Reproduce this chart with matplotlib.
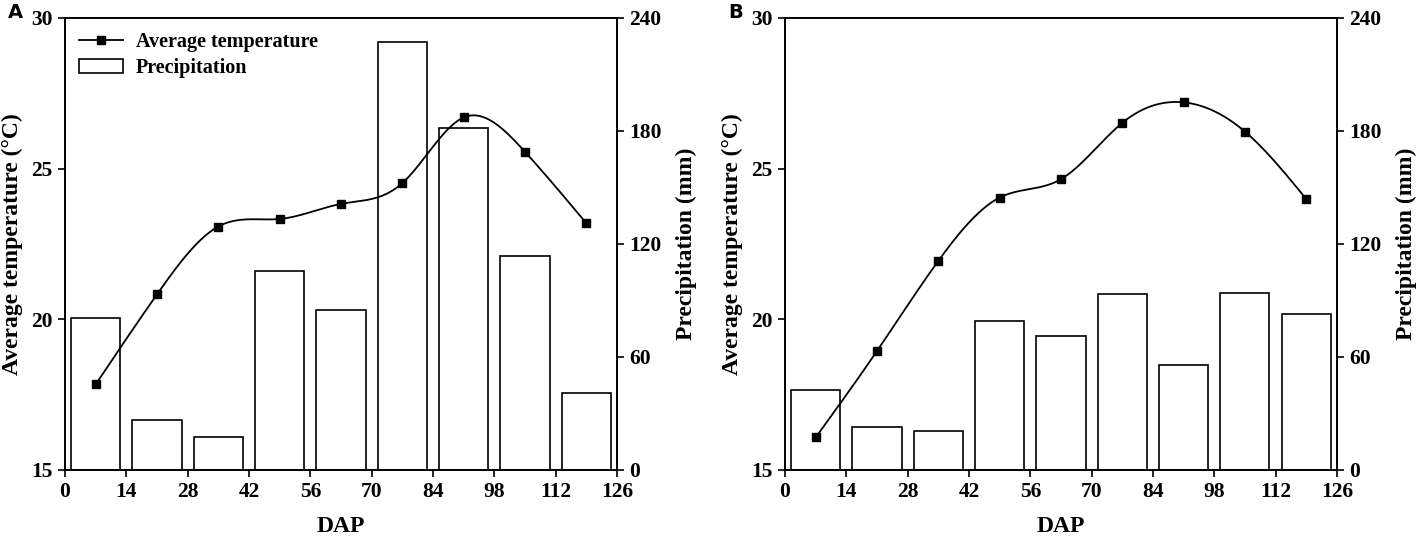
import numpy as np
import matplotlib.pyplot as plt
from matplotlib.lines import Line2D
from matplotlib.patches import Patch

plt.rcParams['font.family'] = ['Liberation Serif', 'DejaVu Serif']
plt.rcParams['font.weight'] = 'bold'
plt.rcParams['axes.labelweight'] = 'bold'

# Данные: дни после посадки (DAP), температура и осадки
dap = [7, 21, 35, 49, 63, 77, 91, 105, 119]
temp_a = [17.84, 20.83, 23.08, 23.33, 23.83, 24.52, 26.70, 25.56, 23.19]
precip_a = [80.5, 26.8, 17.3, 105.6, 84.7, 227.0, 181.6, 113.8, 41.0]
temp_b = [16.08, 18.95, 21.94, 24.04, 24.65, 26.52, 27.20, 26.23, 23.99]
precip_b = [42.3, 22.8, 20.9, 79.2, 71.4, 93.3, 55.6, 94.2, 82.9]
xticks = [0, 14, 28, 42, 56, 70, 84, 98, 112, 126]


def natural_spline(x, y, n=300):
    # естественный кубический сплайн для гладкой линии
    x = np.asarray(x, float)
    y = np.asarray(y, float)
    k = len(x)
    h = np.diff(x)
    A = np.zeros((k, k))
    b = np.zeros(k)
    A[0, 0] = A[-1, -1] = 1
    for i in range(1, k - 1):
        A[i, i - 1] = h[i - 1]
        A[i, i] = 2 * (h[i - 1] + h[i])
        A[i, i + 1] = h[i]
        b[i] = 3 * ((y[i + 1] - y[i]) / h[i] - (y[i] - y[i - 1]) / h[i - 1])
    c = np.linalg.solve(A, b)
    xs = np.linspace(x[0], x[-1], n)
    idx = np.clip(np.searchsorted(x, xs) - 1, 0, k - 2)
    dx = xs - x[idx]
    bb = (y[idx + 1] - y[idx]) / h[idx] - h[idx] * (2 * c[idx] + c[idx + 1]) / 3
    d = (c[idx + 1] - c[idx]) / (3 * h[idx])
    ys = y[idx] + bb * dx + c[idx] * dx ** 2 + d * dx ** 3
    return xs, ys


fig = plt.figure(figsize=(14.17, 5.37), dpi=100)
boxes = [[0.0459, 0.1248, 0.3895, 0.8417], [0.554, 0.1248, 0.3895, 0.8417]]
panels = [(temp_a, precip_a, 'A'), (temp_b, precip_b, 'B')]

for i, (temp, precip, letter) in enumerate(panels):
    ax = fig.add_axes(boxes[i])
    ax2 = ax.twinx()
    ax.set_zorder(ax2.get_zorder() + 1)
    ax.patch.set_visible(False)

    ax2.bar(dap, precip, width=11.2, color='white', edgecolor='black', linewidth=1.2)
    xs, ys = natural_spline(dap, temp)
    ax.plot(xs, ys, color='black', linewidth=1.3)
    ax.plot(dap, temp, 's', color='black', markersize=6)

    ax.set_xlim(0, 126)
    ax.set_ylim(15, 30)
    ax2.set_ylim(0, 240)
    ax.set_xticks(xticks)
    ax.set_yticks([15, 20, 25, 30])
    ax2.set_yticks([0, 60, 120, 180, 240])
    for a in (ax, ax2):
        a.tick_params(direction='out', length=5, width=1.2, labelsize=15.5, pad=4)
        for s in a.spines.values():
            s.set_linewidth(1.2)
    ax.set_xlabel('DAP', fontsize=17, fontweight='bold', labelpad=10)
    ax.set_ylabel('Average temperature (°C)', fontsize=17, fontweight='bold', labelpad=6)
    ax2.set_ylabel('Precipitation (mm)', fontsize=17, fontweight='bold', labelpad=10)

    fig.text(boxes[i][0] - 0.04, 0.995, letter, fontsize=14, fontweight='bold',
             family='DejaVu Sans', ha='left', va='top')

    if i == 0:
        handles = [Line2D([], [], color='black', marker='s', markersize=6, linewidth=1.3),
                   Patch(facecolor='white', edgecolor='black', linewidth=1.2)]
        ax.legend(handles, ['Average temperature', 'Precipitation'], loc='upper left',
                  frameon=False, fontsize=14.5, handlelength=2.2, borderaxespad=0.3,
                  labelspacing=0.3, handletextpad=0.6)

fig.savefig('out.png', dpi=100)
